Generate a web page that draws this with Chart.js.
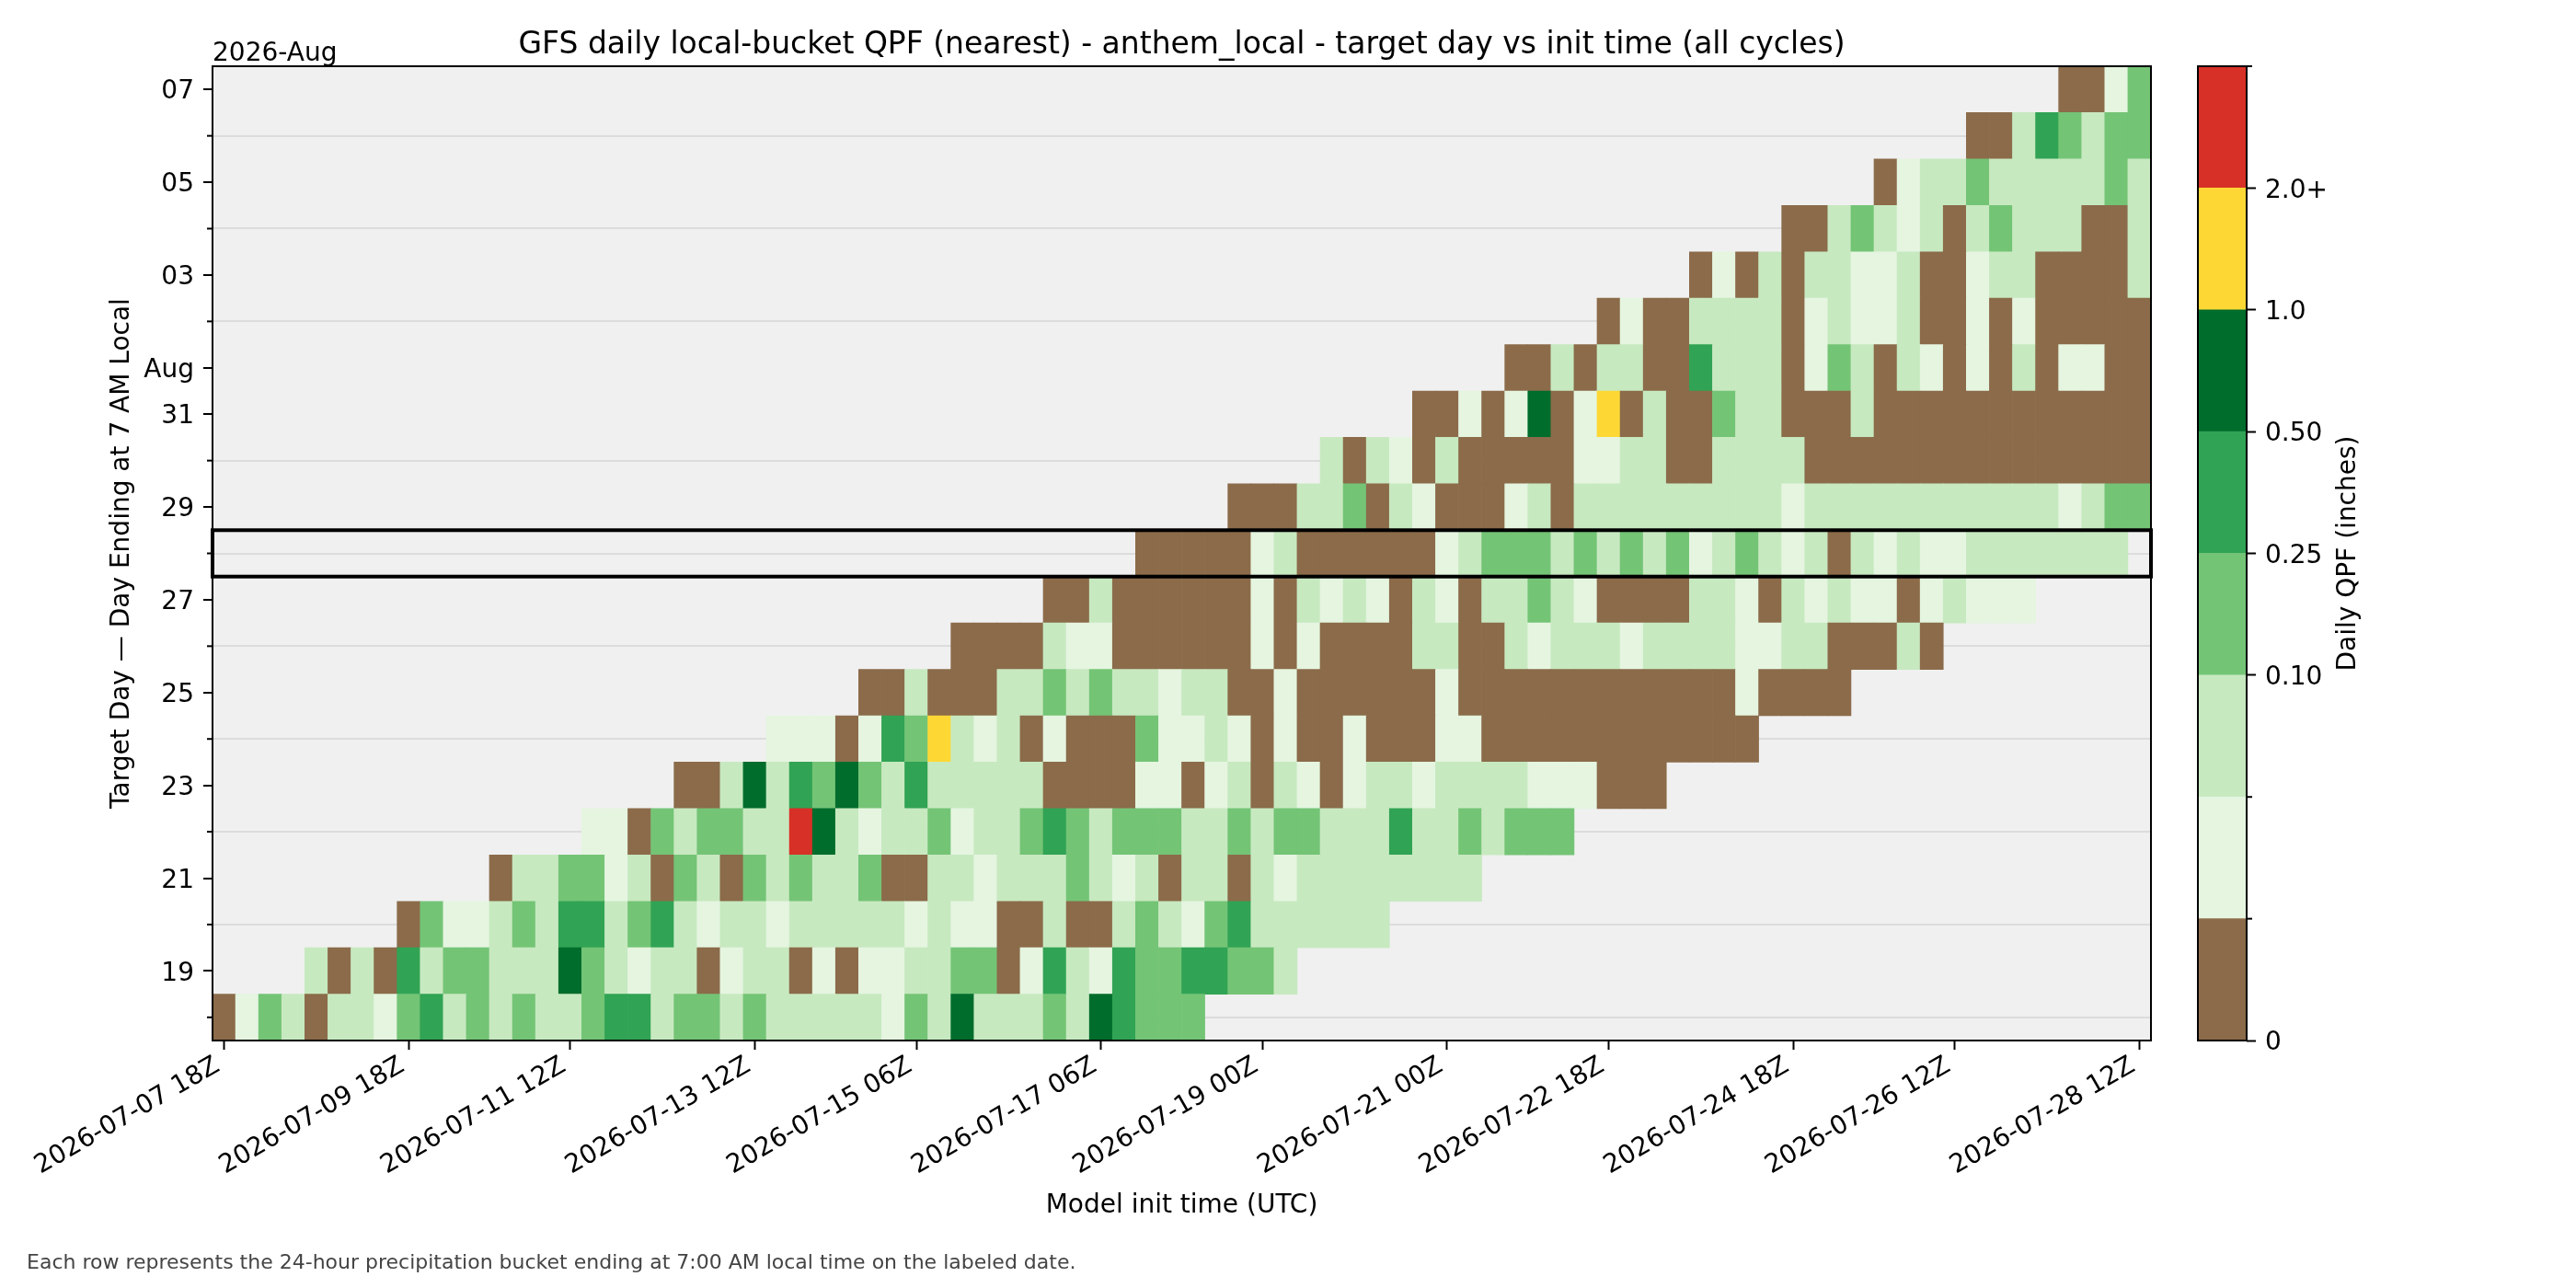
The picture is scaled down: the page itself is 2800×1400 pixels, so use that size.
<!DOCTYPE html>
<html>
<head>
<meta charset="utf-8">
<title>GFS daily local-bucket QPF</title>
<script src="https://cdn.jsdelivr.net/npm/chart.js@4.4.1/dist/chart.umd.min.js"></script>
<style>
  body { margin: 0; background: #fff; }
  #wrap { position: relative; width: 2800px; height: 1400px; }
  #main { position: absolute; left: 0; top: 0; }
  #cbar { position: absolute; left: 2340px; top: 0; }
</style>
</head>
<body>
<div id="wrap">
  <canvas id="main" width="2800" height="1400"></canvas>
  <canvas id="cbar" width="460" height="1400"></canvas>
</div>
<script>
// model init cycles, every 6 hours
var initStart = '2026-07-07T18:00:00Z';
var nCycles = 84;

var targetDays = ['2026-07-18','2026-07-19','2026-07-20','2026-07-21','2026-07-22','2026-07-23','2026-07-24',
  '2026-07-25','2026-07-26','2026-07-27','2026-07-28','2026-07-29','2026-07-30','2026-07-31',
  '2026-08-01','2026-08-02','2026-08-03','2026-08-04','2026-08-05','2026-08-06','2026-08-07'];
var yTickLabels = ['','19','','21','','23','','25','','27','','29','','31','Aug','','03','','05','','07'];
var xTickLabels = ['2026-07-07 18Z','2026-07-09 18Z','2026-07-11 12Z','2026-07-13 12Z','2026-07-15 06Z','2026-07-17 06Z',
  '2026-07-19 00Z','2026-07-21 00Z','2026-07-22 18Z','2026-07-24 18Z','2026-07-26 12Z','2026-07-28 12Z'];

// first init cycle (index) that covers each target day
var firstCycle = [0,4,8,12,16,20,24,28,32,36,40,44,48,52,56,60,64,68,72,76,80];

// QPF bin per init cycle, one string per target day
// 0 = zero, 1 = trace, 2 = light, 3 = 0.10-0.25, 4 = 0.25-0.50, 5 = 0.50-1.0, 6 = 1.0-2.0, 7 = 2.0+
var qpfBins = [
  '0132022134 2323223442 3323222221 3252223254 333',
  '2020423322 2532122012 2010112233 0142143344 332',
  '0311232442 3421221222 2212110020 0232134222 222',
  '0223312032 0323223002 2122232120 2202122222 222',
  '1103233227 5212231223 4323332232 3322242232 333',
  '0025243532 4222220000 1101202101 2212222111 000',
  '1110143621 2010003112 1010010001 1000000000 000',
  '0020002232 3221220010 0000010000 0000000010 000',
  '0000211000 0001010000 2200212221 2222112200 020',
  '0020000001 0212102102 2321000022 1021211012 111',
  '0000012000 0001233323 2323123212 0212112222 222',
  '0002230210 0012022222 2222122222 2222221233',
  '2021020000 0112200222 2000000000 000000',
  '0010150160 2003220002 000000000000',
  '0020220042 2201320210 10201100',
  '0100222201 2112001010 0000',
  '0102022112 0012200002',
  '0023212023 222002',
  '012232222232',
  '00243233',
  '0013'
];

var binColors = ['#8b6b4a','#e5f5e0','#c7e9c0','#74c476','#31a354','#006d2c','#fdd835','#d73027'];
var binTickLabels = ['0','','','0.10','0.25','0.50','1.0','2.0+',''];
var highlightDay = '2026-07-28';

var footnote = 'Each row represents the 24-hour precipitation bucket ending at 7:00 AM local time on the labeled date.';

Chart.defaults.font.family = "'DejaVu Sans', sans-serif";
Chart.defaults.color = '#000';

var initTimes = [];
for (var i = 0; i < nCycles; i++) {
  var d = new Date(Date.parse(initStart) + i * 6 * 3600 * 1000);
  var iso = d.toISOString();
  initTimes.push(iso.slice(0, 10) + ' ' + iso.slice(11, 13) + 'Z');
}

var datasets = targetDays.map(function (day, r) {
  var codes = qpfBins[r].replace(/ /g, '');
  var data = [], colors = [];
  initTimes.forEach(function (t, c) {
    var k = c - firstCycle[r];
    if (k >= 0 && k < codes.length) {
      data.push([r - 0.5, r + 0.5]);
      colors.push(binColors[+codes[k]]);
    } else {
      data.push(null);
      colors.push('rgba(0,0,0,0)');
    }
  });
  return {
    label: day, data: data, backgroundColor: colors, borderWidth: 0,
    barPercentage: 1, categoryPercentage: 1, grouped: false
  };
});

var mainExtras = {
  id: 'mainExtras',
  beforeDraw: function (chart) {
    var a = chart.chartArea, c = chart.ctx;
    c.save();
    c.fillStyle = '#f0f0f0';
    c.fillRect(a.left, a.top, a.right - a.left, a.bottom - a.top);
    c.restore();
  },
  afterDraw: function (chart) {
    var a = chart.chartArea, c = chart.ctx, y = chart.scales.y;
    c.save();
    c.strokeStyle = '#000';
    c.lineWidth = 2;
    yTickLabels.forEach(function (l, i) {
      if (l) return;
      var p = y.getPixelForValue(i);
      c.beginPath(); c.moveTo(a.left - 6, p); c.lineTo(a.left, p); c.stroke();
    });
    var h = targetDays.indexOf(highlightDay);
    var y0 = y.getPixelForValue(h + 0.5), y1 = y.getPixelForValue(h - 0.5);
    c.lineWidth = 4;
    c.strokeRect(a.left, y0, a.right - a.left, y1 - y0);
    c.lineWidth = 2;
    c.strokeRect(a.left, a.top, a.right - a.left, a.bottom - a.top);

    c.fillStyle = '#000';
    c.font = "28px 'DejaVu Sans'";
    c.textAlign = 'left';
    c.textBaseline = 'alphabetic';
    c.fillText('2026-Aug', a.left, a.top - 6);
    c.fillStyle = '#444';
    c.font = "22px 'DejaVu Sans'";
    c.textBaseline = 'middle';
    c.fillText(footnote, 29, 1373);
    c.restore();
  }
};

new Chart(document.getElementById('main'), {
  type: 'bar',
  data: { labels: initTimes, datasets: datasets },
  options: {
    responsive: false,
    animation: false,
    devicePixelRatio: 1,
    events: [],
    layout: { padding: { left: 0, right: 462, top: 0, bottom: 0 } },
    plugins: {
      legend: { display: false },
      tooltip: { enabled: false },
      title: {
        display: true,
        text: 'GFS daily local-bucket QPF (nearest) - anthem_local - target day vs init time (all cycles)',
        fullSize: false,
        font: { size: 33, weight: 'normal' },
        color: '#000',
        padding: { top: 30, bottom: 2.4 }
      }
    },
    scales: {
      x: {
        type: 'category',
        offset: true,
        afterBuildTicks: function (s) {
          s.ticks = xTickLabels.map(function (l) { return { value: initTimes.indexOf(l) }; });
        },
        ticks: { autoSkip: false, minRotation: 30, maxRotation: 30, font: { size: 28 }, padding: 1, labelOffset: -7 },
        grid: { offset: false, drawOnChartArea: false, tickLength: 10, tickWidth: 2, tickColor: '#000' },
        border: { display: false },
        title: { display: true, text: 'Model init time (UTC)', font: { size: 28 }, padding: { top: 0, bottom: 72 } },
        afterFit: function (s) { s.height = 269; }
      },
      y: {
        type: 'linear',
        min: -0.5,
        max: targetDays.length - 0.5,
        z: 1,
        afterBuildTicks: function (s) {
          s.ticks = targetDays.map(function (d, i) { return { value: i }; });
        },
        ticks: {
          autoSkip: false, font: { size: 28 }, padding: 10, labelOffset: 3,
          callback: function (v, i) { return yTickLabels[i]; }
        },
        grid: {
          lineWidth: 2, tickLength: 10, tickWidth: 2,
          color: function (ctx) { return yTickLabels[ctx.index] ? 'rgba(0,0,0,0)' : 'rgba(176,176,176,0.3)'; },
          tickColor: function (ctx) { return yTickLabels[ctx.index] ? '#000' : 'rgba(0,0,0,0)'; }
        },
        border: { display: false },
        title: { display: true, text: 'Target Day \u2014 Day Ending at 7 AM Local', font: { size: 28 }, padding: { top: 116, bottom: 0 } },
        afterFit: function (s) { s.width = 231; }
      }
    }
  },
  plugins: [mainExtras]
});

// colour bar
var cbarExtras = {
  id: 'cbarExtras',
  afterDraw: function (chart) {
    var a = chart.chartArea, c = chart.ctx, y = chart.scales.y;
    c.save();
    c.strokeStyle = '#000';
    c.lineWidth = 2;
    binTickLabels.forEach(function (l, i) {
      if (l) return;
      var p = y.getPixelForValue(i);
      c.beginPath(); c.moveTo(a.right, p); c.lineTo(a.right + 6, p); c.stroke();
    });
    c.strokeRect(a.left, a.top, a.right - a.left, a.bottom - a.top);
    c.fillStyle = '#000';
    c.font = "28px 'DejaVu Sans'";
    c.translate(213, (a.top + a.bottom) / 2);
    c.rotate(-Math.PI / 2);
    c.textAlign = 'center';
    c.textBaseline = 'middle';
    c.fillText('Daily QPF (inches)', 0, 0);
    c.restore();
  }
};

new Chart(document.getElementById('cbar'), {
  type: 'bar',
  data: {
    labels: ['qpf'],
    datasets: binColors.map(function (col, b) {
      return { data: [[b, b + 1]], backgroundColor: col, borderWidth: 0, barPercentage: 1, categoryPercentage: 1, grouped: false };
    })
  },
  options: {
    responsive: false,
    animation: false,
    devicePixelRatio: 1,
    events: [],
    layout: { padding: { left: 49, right: 0, top: 72, bottom: 269 } },
    plugins: { legend: { display: false }, tooltip: { enabled: false } },
    scales: {
      x: { display: false, offset: true },
      y: {
        type: 'linear', position: 'right', min: 0, max: binColors.length,
        afterBuildTicks: function (s) {
          s.ticks = binTickLabels.map(function (l, b) { return { value: b }; });
        },
        ticks: {
          autoSkip: false, font: { size: 28 }, padding: 10, labelOffset: 3,
          callback: function (v, i) { return binTickLabels[i]; }
        },
        grid: {
          drawOnChartArea: false, tickLength: 10, tickWidth: 2,
          tickColor: function (ctx) { return binTickLabels[ctx.index] ? '#000' : 'rgba(0,0,0,0)'; }
        },
        border: { display: false },
        afterFit: function (s) { s.width = 358; }
      }
    }
  },
  plugins: [cbarExtras]
});
</script>
</body>
</html>
